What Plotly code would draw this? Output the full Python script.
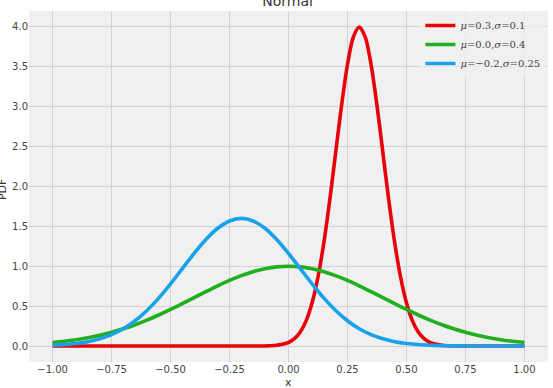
import plotly.graph_objects as go

# Values
x_red = [-1.0, -0.75, -0.5, -0.25, -0.1, -0.05, 0.0, 0.025, 0.05, 0.075, 0.1, 0.125, 0.15,
         0.175, 0.2, 0.225, 0.25, 0.275, 0.3, 0.325, 0.35, 0.375, 0.4, 0.425, 0.45, 0.475,
         0.5, 0.525, 0.55, 0.575, 0.6, 0.65, 0.7, 0.75, 1.0]
y_red = [0.0, 0.0, 0.0, 0.0, 0.001, 0.009, 0.044, 0.091, 0.175, 0.317, 0.540, 0.863, 1.295,
         1.826, 2.420, 3.011, 3.521, 3.866, 3.989, 3.866, 3.521, 3.011, 2.420, 1.826, 1.295,
         0.863, 0.540, 0.317, 0.175, 0.091, 0.044, 0.009, 0.001, 0.0, 0.0]

x_grid = [-1.0, -0.95, -0.9, -0.85, -0.8, -0.75, -0.7, -0.65, -0.6, -0.55, -0.5, -0.45, -0.4,
          -0.35, -0.3, -0.25, -0.2, -0.15, -0.1, -0.05, 0.0, 0.05, 0.1, 0.15, 0.2, 0.25, 0.3,
          0.35, 0.4, 0.45, 0.5, 0.55, 0.6, 0.65, 0.7, 0.75, 0.8, 0.85, 0.9, 0.95, 1.0]
y_green = [0.044, 0.059, 0.079, 0.104, 0.135, 0.172, 0.216, 0.266, 0.324, 0.388, 0.457, 0.530,
           0.605, 0.680, 0.753, 0.820, 0.880, 0.930, 0.967, 0.990, 0.997, 0.990, 0.967, 0.930,
           0.880, 0.820, 0.753, 0.680, 0.605, 0.530, 0.457, 0.388, 0.324, 0.266, 0.216, 0.172,
           0.135, 0.104, 0.079, 0.059, 0.044]
y_blue = [0.010, 0.018, 0.032, 0.054, 0.090, 0.142, 0.216, 0.316, 0.444, 0.599, 0.777, 0.968,
          1.159, 1.333, 1.473, 1.564, 1.596, 1.564, 1.473, 1.333, 1.159, 0.968, 0.777, 0.599,
          0.444, 0.316, 0.216, 0.142, 0.090, 0.054, 0.032, 0.018, 0.010, 0.005, 0.002, 0.001,
          0.001, 0.0, 0.0, 0.0, 0.0]

labels = ["<i>μ</i>=0.3,<i>σ</i>=0.1", "<i>μ</i>=0.0,<i>σ</i>=0.4", "<i>μ</i>=−0.2,<i>σ</i>=0.25"]
colors = ["#e8000b", "#1faf1f", "#18a2ea"]

x_ticks = [-1.0, -0.75, -0.5, -0.25, 0.0, 0.25, 0.5, 0.75, 1.0]
x_ticktext = ["−1.00", "−0.75", "−0.50", "−0.25", "0.00", "0.25", "0.50", "0.75", "1.00"]
y_ticks = [0.0, 0.5, 1.0, 1.5, 2.0, 2.5, 3.0, 3.5, 4.0]

fig = go.Figure()
series = [(x_red, y_red), (x_grid, y_green), (x_grid, y_blue)]
for (xs, ys), lab, col in zip(series, labels, colors):
    fig.add_trace(go.Scatter(x=xs, y=ys, mode="lines", name=lab,
                             line=dict(color=col, width=3.6, shape="spline", smoothing=0.8)))

fig.update_layout(
    width=553, height=388,
    margin=dict(l=29, r=5, t=11, b=26),
    paper_bgcolor="white",
    plot_bgcolor="#f0f0f0",
    font=dict(family="DejaVu Sans", color="#444444", size=10),
    title=dict(text="Normal", x=0.52, xanchor="center", yref="container",
               y=1 - 6 / 388, yanchor="bottom", font=dict(size=14, color="#333333")),
    showlegend=True,
    legend=dict(x=0.995, y=1.0, xanchor="right", yanchor="top",
                bgcolor="rgba(240,240,240,0.7)", borderwidth=0,
                font=dict(family="DejaVu Serif", size=10, color="#444444"),
                tracegroupgap=0, itemwidth=30),
    xaxis=dict(range=[-1.1, 1.1], tickvals=x_ticks, ticktext=x_ticktext,
               showgrid=True, gridcolor="#d2d2d2", gridwidth=1, zeroline=False,
               showline=False, ticks="", ticklen=0),
    yaxis=dict(range=[-0.2, 4.19], tickvals=y_ticks, tickformat=".1f",
               showgrid=True, gridcolor="#d2d2d2", gridwidth=1, zeroline=False,
               showline=False, ticks=""),
    annotations=[
        dict(text="x", xref="paper", yref="paper", x=0.5, y=0,
             xanchor="center", yanchor="top", showarrow=False,
             font=dict(size=11, color="#333333"), yshift=-12),
        dict(text="PDF", xref="paper", yref="paper", x=-27 / 519, y=0.49,
             xanchor="center", yanchor="middle", textangle=-90, showarrow=False,
             font=dict(size=11, color="#333333")),
    ],
)

fig.write_html("out.html")
